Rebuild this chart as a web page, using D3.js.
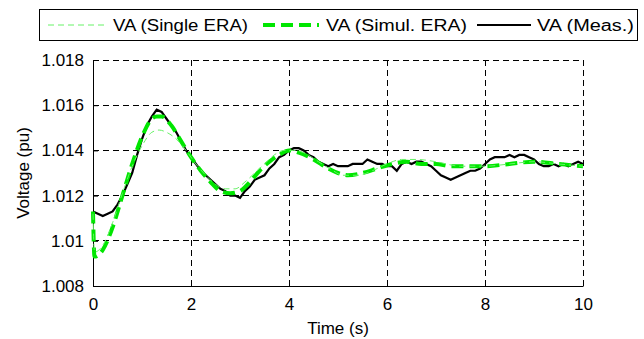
<!DOCTYPE html>
<html>
<head>
<meta charset="utf-8">
<script src="https://cdn.jsdelivr.net/npm/d3@7"></script>
<style>
  body { margin: 0; background: #fff; }
  text { font-family: "Liberation Sans", Arial, sans-serif; fill: #000; }
</style>
</head>
<body>
<script>
// voltage response, single vs simultaneous ERA fit vs measurement

var width = 644, height = 339;
var margin = {top: 60, right: 61, bottom: 53, left: 93};

var xTicks = [0, 2, 4, 6, 8, 10];
var yTicks = [1.008, 1.01, 1.012, 1.014, 1.016, 1.018];
var yTickLabels = ["1.008", "1.01", "1.012", "1.014", "1.016", "1.018"];

var seriesNames = ["VA (Single ERA)", "VA (Simul. ERA)", "VA (Meas.)"];

// single ERA estimate (thin dashed)
var singleT = [0, 0.03, 0.2, 0.4, 0.6, 0.8, 1.0, 1.2, 1.35, 1.5, 1.7, 1.9, 2.1, 2.3, 2.5, 2.7, 2.9, 3.1, 3.3, 3.5, 3.7, 3.9, 4.1, 4.3, 4.6, 4.9, 5.1, 5.4, 5.7, 6.0, 6.3, 6.6, 7.0, 7.5, 8.0, 8.5, 9.0, 9.5, 10];
var singleV = [1.0112, 1.0095, 1.0098, 1.0108, 1.0121, 1.0133, 1.0142, 1.0148, 1.0149, 1.0148, 1.0145, 1.0140, 1.0134, 1.0129, 1.0125, 1.0123, 1.0123, 1.0126, 1.0130, 1.0134, 1.0138, 1.0140, 1.0140, 1.0139, 1.0135, 1.0131, 1.0129, 1.0129, 1.0131, 1.0134, 1.0136, 1.0136, 1.0135, 1.0133, 1.0133, 1.0134, 1.0135, 1.0134, 1.0133];

// simultaneous ERA estimate (thick dashed)
var simulT = [0, 0.03, 0.2, 0.4, 0.6, 0.8, 1.0, 1.2, 1.3, 1.4, 1.6, 1.8, 2.0, 2.2, 2.4, 2.6, 2.8, 3.0, 3.2, 3.4, 3.6, 3.8, 4.0, 4.2, 4.5, 4.8, 5.0, 5.2, 5.5, 5.8, 6.1, 6.4, 6.7, 7.0, 7.3, 7.6, 8.0, 8.5, 9.0, 9.5, 10];
var simulV = [1.0113, 1.0093, 1.0096, 1.0106, 1.0120, 1.0134, 1.0146, 1.0154, 1.0155, 1.0155, 1.0151, 1.0144, 1.0137, 1.0131, 1.0126, 1.0122, 1.0121, 1.0122, 1.0126, 1.0131, 1.0135, 1.0138, 1.0140, 1.0139, 1.0136, 1.0132, 1.0130, 1.0129, 1.0130, 1.0132, 1.0134, 1.0135, 1.0134, 1.0134, 1.0133, 1.0133, 1.0133, 1.0134, 1.0135, 1.0134, 1.0133];

// measured, sampled every 0.1 s
var measT = d3.range(101).map(function(i) { return i / 10; });
var measV = [
  1.0113, 1.0112, 1.0111, 1.0112, 1.0113, 1.0116, 1.0120, 1.0125, 1.0130, 1.0138,
  1.0145, 1.0151, 1.0155, 1.0158, 1.0157, 1.0154, 1.0151, 1.0148, 1.0144, 1.0140,
  1.0137, 1.0134, 1.0131, 1.0129, 1.0127, 1.0125, 1.0123, 1.0122, 1.0120, 1.0120,
  1.0119, 1.0122, 1.0124, 1.0127, 1.0128, 1.0129, 1.0132, 1.0134, 1.0137, 1.0138,
  1.0140, 1.0141, 1.0141, 1.0140, 1.0138, 1.0137, 1.0135, 1.0134, 1.0133, 1.0134,
  1.0133, 1.0133, 1.0133, 1.0134, 1.0134, 1.0134, 1.0136, 1.0135, 1.0134, 1.0134,
  1.0133, 1.0133, 1.0131, 1.0134, 1.0135, 1.0134, 1.0135, 1.0135, 1.0134, 1.0133,
  1.0131, 1.0129, 1.0128, 1.0127, 1.0128, 1.0129, 1.0130, 1.0131, 1.0131, 1.0132,
  1.0134, 1.0136, 1.0137, 1.0137, 1.0137, 1.0138, 1.0137, 1.0138, 1.0138, 1.0137,
  1.0136, 1.0134, 1.0133, 1.0133, 1.0134, 1.0133, 1.0134, 1.0133, 1.0134, 1.0135,
  1.0134];

var svg = d3.select("body").append("svg")
    .attr("width", width)
    .attr("height", height);

var x = d3.scaleLinear().domain([0, 10]).range([margin.left, width - margin.right]);
var y = d3.scaleLinear().domain([1.008, 1.018]).range([height - margin.bottom, margin.top]);

// grid
var grid = svg.append("g").attr("stroke", "#000").attr("stroke-width", 1)
    .attr("stroke-dasharray", "6,4").attr("shape-rendering", "crispEdges");
grid.selectAll(".gx").data(xTicks.slice(1)).enter().append("line")
    .attr("x1", function(d) { return x(d); }).attr("x2", function(d) { return x(d); })
    .attr("y1", y(1.008)).attr("y2", y(1.018));
grid.selectAll(".gy").data(yTicks.slice(1)).enter().append("line")
    .attr("x1", x(0)).attr("x2", x(10))
    .attr("y1", function(d) { return y(d); }).attr("y2", function(d) { return y(d); });

// axes
var xAxis = svg.append("g")
    .attr("transform", "translate(0," + y(1.008) + ")")
    .call(d3.axisBottom(x).tickValues(xTicks).tickSizeInner(-5).tickSizeOuter(0).tickPadding(10));
var yAxis = svg.append("g")
    .attr("transform", "translate(" + x(0) + ",0)")
    .call(d3.axisLeft(y).tickValues(yTicks).tickFormat(function(d, i) { return yTickLabels[i]; })
      .tickSizeInner(-5).tickSizeOuter(0).tickPadding(9));
[xAxis, yAxis].forEach(function(a) {
  a.attr("font-size", 17).attr("font-family", null);
  a.selectAll("text").style("font-size", "17px");
  a.selectAll("path, line").attr("stroke", "#000");
});
xAxis.selectAll("text").attr("dy", "0.85em");

svg.append("text").attr("x", (x(0) + x(10)) / 2).attr("y", 334)
    .attr("text-anchor", "middle").style("font-size", "17px").text("Time (s)");
svg.append("text").attr("transform", "translate(29," + (y(1.013)) + ") rotate(-90)")
    .attr("text-anchor", "middle").style("font-size", "17px").text("Voltage (pu)");

// lines
var line = d3.line().x(function(d) { return x(d[0]); }).y(function(d) { return y(d[1]); });
var plot = svg.append("g");

plot.append("path").datum(d3.zip(measT, measV))
    .attr("d", line.curve(d3.curveLinear))
    .attr("fill", "none").attr("stroke", "#000").attr("stroke-width", 2.2);
plot.append("path").datum(d3.zip(simulT, simulV))
    .attr("d", line.curve(d3.curveMonotoneX))
    .attr("fill", "none").attr("stroke", "#00e600").attr("stroke-width", 4)
    .attr("stroke-dasharray", "12,6");
plot.append("path").datum(d3.zip(singleT, singleV))
    .attr("d", line.curve(d3.curveMonotoneX))
    .attr("fill", "none").attr("stroke", "#66f266").attr("stroke-width", 1)
    .attr("stroke-dasharray", "6,4");

// legend
var legend = svg.append("g");
legend.append("rect").attr("x", 39.5).attr("y", 9.5).attr("width", 598).attr("height", 31)
    .attr("fill", "#fff").attr("stroke", "#000").attr("stroke-width", 1);
var legItems = [
  {x1: 48, x2: 107, tx: 113, tw: 135, stroke: "#66f266", sw: 1, dash: "6,4"},
  {x1: 263, x2: 319, tx: 326, tw: 141, stroke: "#00e600", sw: 4, dash: "12,6"},
  {x1: 477, x2: 531, tx: 537, tw: 97, stroke: "#000", sw: 2, dash: null}
];
var li = legend.selectAll(".li").data(legItems).enter().append("g");
li.append("line").attr("x1", function(d) { return d.x1; }).attr("x2", function(d) { return d.x2; })
    .attr("y1", 25).attr("y2", 25)
    .attr("stroke", function(d) { return d.stroke; })
    .attr("stroke-width", function(d) { return d.sw; })
    .attr("stroke-dasharray", function(d) { return d.dash; });
li.append("text").attr("x", function(d) { return d.tx; }).attr("y", 31)
    .attr("textLength", function(d) { return d.tw; }).attr("lengthAdjust", "spacingAndGlyphs")
    .style("font-size", "16px")
    .text(function(d, i) { return seriesNames[i]; });
</script>
</body>
</html>
